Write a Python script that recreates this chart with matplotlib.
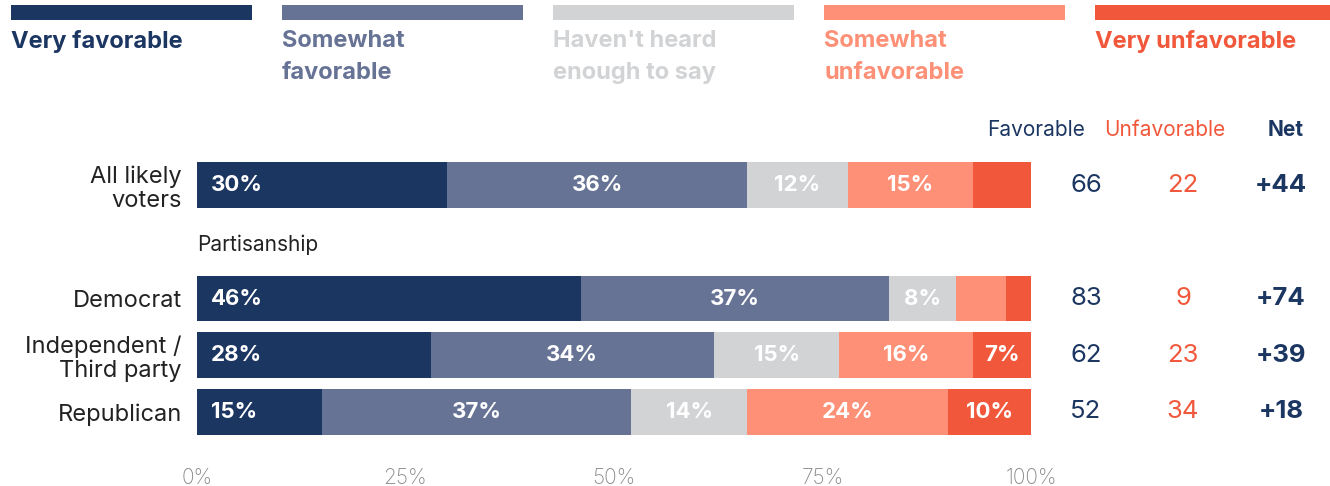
import matplotlib.pyplot as plt
from matplotlib.patches import Rectangle
from matplotlib.transforms import blended_transform_factory

plt.rcParams["font.family"] = ["Inter", "DejaVu Sans"]

# survey rows, top to bottom
groups = ["All likely\nvoters", "Democrat", "Independent /\nThird party", "Republican"]
group_y = [4, 2, 1, 0]
segments = ["Very favorable", "Somewhat\nfavorable", "Haven't heard\nenough to say",
            "Somewhat\nunfavorable", "Very unfavorable"]
very_fav = [30, 46, 28, 15]
somewhat_fav = [36, 37, 34, 37]
not_heard = [12, 8, 15, 14]
somewhat_unfav = [15, 6, 16, 24]
very_unfav = [7, 3, 7, 10]
# which segments print a label inside the bar
show_label = [
    [True, True, True, True, False],
    [True, True, True, False, False],
    [True, True, True, True, True],
    [True, True, True, True, True],
]
favorable = [66, 83, 62, 52]
unfavorable = [22, 9, 23, 34]
net = ["+44", "+74", "+39", "+18"]
xticks = [0, 25, 50, 75, 100]

colors = ["#1c3662", "#677395", "#d1d3d5", "#fd9076", "#f1583b"]
navy = "#1c3662"
red = "#f1583b"

W, H = 1330, 486
fig = plt.figure(figsize=(W / 100, H / 100), dpi=100)


def fx(px):
    return px / W


def fy(py):
    return 1 - py / H


# axes placed so rows land at fixed pixel positions
ax = fig.add_axes([fx(197), fy(440), fx(1031) - fx(197), fy(130) - fy(440)])
ax.set_xlim(0, 100)
ax.set_ylim(-0.496, 4.973)

series = [very_fav, somewhat_fav, not_heard, somewhat_unfav, very_unfav]
left = [0] * len(groups)
for k, vals in enumerate(series):
    ax.barh(group_y, vals, left=left, height=0.81, color=colors[k], edgecolor="none")
    for i, v in enumerate(vals):
        if show_label[i][k]:
            if k == 0:
                ax.text(left[i] + 1.7, group_y[i], f"{v}%", ha="left", va="center",
                        color="white", fontsize=16, fontweight="bold")
            else:
                ax.text(left[i] + v / 2, group_y[i], f"{v}%", ha="center", va="center",
                        color="white", fontsize=16, fontweight="bold")
    left = [l + v for l, v in zip(left, vals)]

ax.set_yticks(group_y)
ax.set_yticklabels(groups, fontsize=17, color="#222222", linespacing=1.1)
ax.set_xticks(xticks)
ax.set_xticklabels([f"{t}%" for t in xticks], fontsize=15, color="#8a8a8a",
                   fontweight="light")
ax.tick_params(axis="both", length=0)
ax.tick_params(axis="x", pad=20)
ax.tick_params(axis="y", pad=11)
for s in ax.spines.values():
    s.set_visible(False)

ax.text(0, 2.94, "Partisanship", ha="left", va="center", fontsize=15, color="#222222")

# summary columns
tr = blended_transform_factory(fig.transFigure, ax.transData)
fig.text(fx(1036), fy(130), "Favorable", ha="center", va="center", fontsize=15, color=navy)
fig.text(fx(1165), fy(130), "Unfavorable", ha="center", va="center", fontsize=15, color=red)
fig.text(fx(1286), fy(130), "Net", ha="center", va="center", fontsize=15, color=navy,
         fontweight="bold")
for i in range(len(groups)):
    ax.text(fx(1086), group_y[i], str(favorable[i]), transform=tr, ha="center", va="center",
            fontsize=18.5, color=navy)
    ax.text(fx(1183), group_y[i], str(unfavorable[i]), transform=tr, ha="center", va="center",
            fontsize=18.5, color=red)
    ax.text(fx(1281), group_y[i], net[i], transform=tr, ha="center", va="center",
            fontsize=18.5, color=navy, fontweight="bold")

# legend swatches across the top
for k, name in enumerate(segments):
    x0 = 11 + k * 271
    fig.add_artist(Rectangle((fx(x0), fy(20)), fx(241), fy(5) - fy(20),
                             transform=fig.transFigure, color=colors[k], lw=0))
    fig.text(fx(x0), fy(30), name, ha="left", va="top", fontsize=17, fontweight="bold",
             color=colors[k], linespacing=1.6)

fig.savefig("out.png", dpi=100)
